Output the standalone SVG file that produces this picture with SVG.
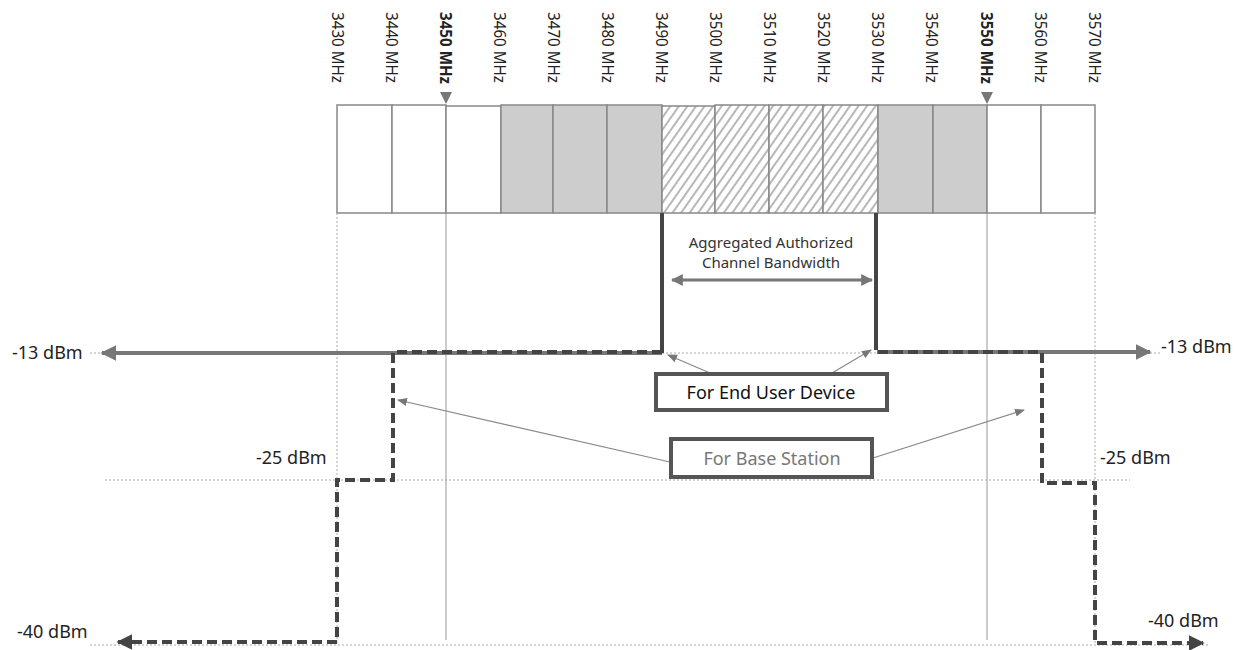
<svg xmlns="http://www.w3.org/2000/svg" width="1237" height="650" viewBox="0 0 1237 650">
<defs>
<style>
.tick{font-family:"Noto Sans","Liberation Sans",sans-serif;font-size:16px;fill:#222}
.tb{font-weight:bold}
.lvl{font-family:"Noto Sans","Liberation Sans",sans-serif;font-size:18px;fill:#222}
.lbl{font-family:"Noto Sans","Liberation Sans",sans-serif;font-size:15px;fill:#333;text-anchor:middle}
.box{fill:#fff;stroke:#555;stroke-width:4}
.cell{stroke:#888;stroke-width:1.5}
.thin{stroke:#999;stroke-width:1;fill:none}
.dot{stroke:#aaa;stroke-width:1;stroke-dasharray:2 2;fill:none}
.bs{stroke:#444;stroke-width:4;stroke-dasharray:10 5;fill:none}
</style>
<pattern id="hatch" width="7" height="7" patternUnits="userSpaceOnUse" patternTransform="rotate(35)">
<rect width="7" height="7" fill="#fff"/>
<line x1="1" y1="0" x2="1" y2="7" stroke="#999" stroke-width="1.4"/>
</pattern>
<marker id="ah" viewBox="0 0 10 10" refX="9" refY="5" markerWidth="4" markerHeight="4" orient="auto-start-reverse" markerUnits="strokeWidth">
<path d="M0,0 L10,5 L0,10 Z" fill="#777"/>
</marker>
<marker id="ahd" viewBox="0 0 10 10" refX="9" refY="5" markerWidth="4" markerHeight="4" orient="auto" markerUnits="strokeWidth">
<path d="M0,0 L10,5 L0,10 Z" fill="#444"/>
</marker>
<marker id="sa" viewBox="0 0 10 10" refX="9" refY="5" markerWidth="10" markerHeight="10" orient="auto" markerUnits="userSpaceOnUse">
<path d="M0,1 L10,5 L0,9 Z" fill="#777"/>
</marker>
</defs>

<g id="frequency-labels">
<text class="tick" transform="translate(338,12) rotate(90)" dominant-baseline="central" textLength="71" lengthAdjust="spacingAndGlyphs">3430 MHz</text>
<text class="tick" transform="translate(392,12) rotate(90)" dominant-baseline="central" textLength="71" lengthAdjust="spacingAndGlyphs">3440 MHz</text>
<text class="tick tb" transform="translate(446,12) rotate(90)" dominant-baseline="central" textLength="72" lengthAdjust="spacingAndGlyphs">3450 MHz</text>
<text class="tick" transform="translate(500,12) rotate(90)" dominant-baseline="central" textLength="71" lengthAdjust="spacingAndGlyphs">3460 MHz</text>
<text class="tick" transform="translate(554,12) rotate(90)" dominant-baseline="central" textLength="71" lengthAdjust="spacingAndGlyphs">3470 MHz</text>
<text class="tick" transform="translate(608,12) rotate(90)" dominant-baseline="central" textLength="71" lengthAdjust="spacingAndGlyphs">3480 MHz</text>
<text class="tick" transform="translate(662,12) rotate(90)" dominant-baseline="central" textLength="71" lengthAdjust="spacingAndGlyphs">3490 MHz</text>
<text class="tick" transform="translate(716,12) rotate(90)" dominant-baseline="central" textLength="71" lengthAdjust="spacingAndGlyphs">3500 MHz</text>
<text class="tick" transform="translate(770,12) rotate(90)" dominant-baseline="central" textLength="71" lengthAdjust="spacingAndGlyphs">3510 MHz</text>
<text class="tick" transform="translate(824,12) rotate(90)" dominant-baseline="central" textLength="71" lengthAdjust="spacingAndGlyphs">3520 MHz</text>
<text class="tick" transform="translate(878,12) rotate(90)" dominant-baseline="central" textLength="71" lengthAdjust="spacingAndGlyphs">3530 MHz</text>
<text class="tick" transform="translate(932,12) rotate(90)" dominant-baseline="central" textLength="71" lengthAdjust="spacingAndGlyphs">3540 MHz</text>
<text class="tick tb" transform="translate(987,12) rotate(90)" dominant-baseline="central" textLength="72" lengthAdjust="spacingAndGlyphs">3550 MHz</text>
<text class="tick" transform="translate(1041,12) rotate(90)" dominant-baseline="central" textLength="71" lengthAdjust="spacingAndGlyphs">3560 MHz</text>
<text class="tick" transform="translate(1095,12) rotate(90)" dominant-baseline="central" textLength="71" lengthAdjust="spacingAndGlyphs">3570 MHz</text>
<path d="M440,92 L452,92 L446,104 Z" fill="#777"/>
<path d="M981,92 L993,92 L987,104 Z" fill="#777"/>
</g>

<g id="band">
<rect class="cell" x="337" y="105" width="55" height="108" fill="#fff"/>
<rect class="cell" x="392" y="105" width="54" height="108" fill="#fff"/>
<rect class="cell" x="446" y="106" width="55" height="107" fill="#fff" stroke="#555" stroke-width="2"/>
<rect class="cell" x="501" y="105" width="52" height="108" fill="#cdcdcd"/>
<rect class="cell" x="553" y="105" width="54" height="108" fill="#cdcdcd" stroke="#666"/>
<rect class="cell" x="607" y="105" width="55" height="108" fill="#cdcdcd"/>
<rect class="cell" x="662" y="106" width="53" height="107" fill="url(#hatch)" stroke="#555" stroke-width="2"/>
<rect class="cell" x="715" y="105" width="54" height="108" fill="url(#hatch)"/>
<rect class="cell" x="769" y="105" width="54" height="108" fill="url(#hatch)" stroke="#555" stroke-width="2"/>
<rect class="cell" x="823" y="105" width="55" height="108" fill="url(#hatch)"/>
<rect class="cell" x="878" y="105" width="55" height="108" fill="#cdcdcd" stroke="#666"/>
<rect class="cell" x="933" y="105" width="54" height="108" fill="#cdcdcd"/>
<rect class="cell" x="987" y="105" width="54" height="108" fill="#fff"/>
<rect class="cell" x="1041" y="105" width="54" height="108" fill="#fff"/>
</g>

<g id="guides">
<line class="dot" x1="337" y1="213" x2="337" y2="645"/>
<line class="dot" x1="1095" y1="213" x2="1095" y2="645"/>
<line class="thin" x1="446" y1="213" x2="446" y2="640"/>
<line class="thin" x1="987" y1="213" x2="987" y2="640"/>
<line class="dot" x1="90" y1="353" x2="1160" y2="353"/>
<line class="dot" x1="105" y1="480" x2="1130" y2="480"/>
<line class="dot" x1="90" y1="645" x2="1210" y2="645"/>
</g>

<g id="levels">
<text class="lvl" x="12" y="359">-13 dBm</text>
<text class="lvl" x="1161" y="353">-13 dBm</text>
<text class="lvl" x="256" y="464">-25 dBm</text>
<text class="lvl" x="1100" y="464">-25 dBm</text>
<text class="lvl" x="17" y="638">-40 dBm</text>
<text class="lvl" x="1148" y="627">-40 dBm</text>
</g>

<g id="connectors">
<path d="M662,353 L102,353" stroke="#777" stroke-width="4" fill="none" marker-end="url(#ah)"/>
<path d="M877,352 L1150,352" stroke="#777" stroke-width="4" fill="none" marker-end="url(#ah)"/>
<path d="M662,353 L662,213 M876,213 L876,350" stroke="#444" stroke-width="4" fill="none"/>
<path class="bs" d="M662,352 L393,352 L393,480 L337,480 L337,642 L118,642" marker-end="url(#ahd)"/>
<path class="bs" d="M878,352 L1042,352 L1042,483 L1095,483 L1095,643 L1203,643" marker-end="url(#ahd)"/>
<path d="M672,280 L872,280" stroke="#777" stroke-width="3" fill="none" marker-start="url(#ah)" marker-end="url(#ah)"/>
<line x1="710" y1="373" x2="668" y2="355" stroke="#888" stroke-width="1.2" marker-end="url(#sa)"/>
<line x1="832" y1="373" x2="871" y2="350" stroke="#888" stroke-width="1.2" marker-end="url(#sa)"/>
<line x1="670" y1="462" x2="398" y2="400" stroke="#888" stroke-width="1.2" marker-end="url(#sa)"/>
<line x1="873" y1="458" x2="1024" y2="410" stroke="#888" stroke-width="1.2" marker-end="url(#sa)"/>
</g>

<g id="bandwidth-label">
<text class="lbl" x="771" y="248">Aggregated Authorized</text>
<text class="lbl" x="771" y="268">Channel Bandwidth</text>
</g>

<g id="end-user-device">
<rect class="box" x="656" y="374" width="231" height="36"/>
<text x="771" y="399" text-anchor="middle" font-family="Noto Sans, Liberation Sans, sans-serif" font-size="18" fill="#111">For End User Device</text>
</g>

<g id="base-station">
<rect class="box" x="671" y="439" width="201" height="38"/>
<text x="772" y="465" text-anchor="middle" font-family="Noto Sans, Liberation Sans, sans-serif" font-size="18" fill="#777">For Base Station</text>
</g>
</svg>
